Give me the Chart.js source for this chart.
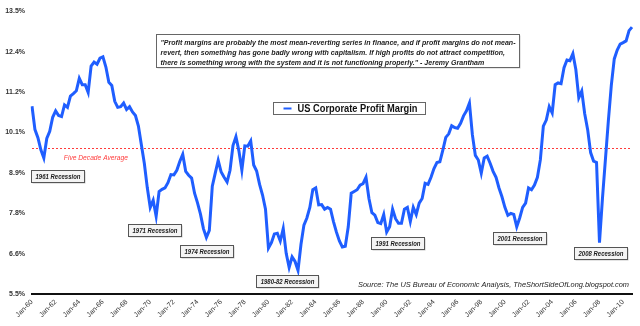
<!DOCTYPE html>
<html>
<head>
<meta charset="utf-8">
<script src="https://cdn.jsdelivr.net/npm/chart.js@4/dist/chart.umd.min.js"></script>
<style>
  html, body { margin: 0; padding: 0; background: #fff; }
</style>
</head>
<body>
<canvas id="chart" width="640" height="326"></canvas>
<script>
// quarterly labels Jan-60 .. Oct-10
const months = ['Jan', 'Apr', 'Jul', 'Oct'];
const quarterLabels = [];
for (let yr = 1960; yr <= 2010; yr++) {
    months.forEach(m => quarterLabels.push(m + '-' + String(yr % 100).padStart(2, '0')));
}

// US corporate profit margin, %, one value per quarter
const profitMargin = [
    10.81, 10.15, 9.92, 9.58,   9.35, 9.9, 10.1, 10.5,      10.68, 10.55, 10.52, 10.85,
    10.78, 11.1, 11.17, 11.25,  11.6, 11.42, 11.42, 11.2,   11.95, 12.06, 12.0, 12.17,
    12.21, 11.92, 11.49, 11.4,  10.95, 10.78, 10.8, 10.9,   10.72, 10.8, 10.65, 10.55,
    10.25, 9.72, 9.2, 8.51,     7.95, 8.15, 7.7, 8.4,       8.46, 8.5, 8.65, 8.88,
    8.87, 9.0, 9.25, 9.45,      8.97, 8.86, 8.78, 8.35,     8.08, 7.76, 7.35, 7.1,
    7.3, 8.55, 8.92, 9.28,      8.95, 8.8, 8.67, 9.0,       9.7, 9.95, 9.55, 9.0,
    9.69, 9.68, 9.83, 9.15,     8.98, 8.6, 8.3, 7.9,        6.8, 6.95, 7.2, 7.22,
    7.0, 7.35, 6.65, 6.25,      6.55, 6.42, 6.17, 6.9,      7.45, 7.65, 7.95, 8.45,
    8.5, 8.02, 8.03, 7.9,       7.95, 7.9, 7.55, 7.25,      7.0, 6.83, 6.85, 7.4,
    8.35, 8.4, 8.45, 8.58,      8.62, 8.8, 8.2, 7.8,        7.73, 7.52, 7.49, 7.75,
    7.25, 7.4, 7.9, 7.63,       7.5, 7.5, 7.9, 7.95,        7.55, 7.95, 7.75, 8.07,
    8.2, 8.63, 8.6, 8.8,        9.05, 9.22, 9.24, 9.57,     9.93, 10.03, 10.26, 10.21,
    10.19, 10.33, 10.54, 10.68, 10.9, 10.0, 9.42, 9.29,     8.92, 9.35, 9.4, 9.2,
    8.97, 8.8, 8.5, 8.25,       7.95, 7.73, 7.78, 7.75,     7.4, 7.65, 7.95, 8.07,
    8.5, 8.45, 8.58, 8.8,       9.3, 10.25, 10.42, 10.8,    10.62, 11.42, 11.47, 11.45,
    11.9, 12.12, 12.1, 12.3,    11.85, 11.05, 11.24, 10.6,  10.15, 9.5, 9.26, 9.22,
    6.95, 8.2, 9.3, 10.4,       11.4, 12.15, 12.4, 12.57,   12.61, 12.66, 12.95, 13.05
];

const fiveDecadeAverage = 9.63;
const yMin = 5.5;
const yMax = 13.5;

const recessionNotes = ['1961 Recession', '1971 Recession', '1974 Recession', '1980-82 Recession',
                        '1991 Recession', '2001 Recession', '2008 Recession'];
// label centres as [quarter index, value]
const recessionAnchors = [[8.5, 8.84], [41.3, 7.3], [58.9, 6.71], [86.3, 5.87],
                          [123.8, 6.93], [164.8, 7.09], [192.5, 6.65]];

const quoteLines = [
    '"Profit margins are probably the most mean-reverting series in finance, and if profit margins do not mean-',
    'revert, then something has gone badly wrong with capitalism. If high profits do not attract competition,',
    'there is something wrong with the system and it is not functioning properly." - Jeremy Grantham'
];
const sourceNote = 'Source: The US Bureau of Economic Analysis, TheShortSideOfLong.blogspot.com';

const FONT = '"Liberation Sans", Arial, sans-serif';
const BLUE = '#1f5eff';
const RED = '#ff3b3b';

// draw text squeezed horizontally to a target width
const fitText = (ctx, text, x, y, scale, align) => {
    ctx.save();
    ctx.translate(x, y);
    ctx.scale(scale, 1);
    ctx.textAlign = align;
    ctx.fillText(text, 0, 0);
    ctx.restore();
};

const notesPlugin = {
    id: 'notes',
    beforeDatasetsDraw(chart) {
        const { ctx, chartArea, scales: { x, y } } = chart;
        const yy = Math.round(y.getPixelForValue(fiveDecadeAverage)) + 0.5;
        ctx.save();
        ctx.strokeStyle = RED;
        ctx.lineWidth = 1;
        ctx.setLineDash([2, 2]);
        ctx.beginPath();
        ctx.moveTo(chartArea.left, yy);
        ctx.lineTo(chartArea.right, yy);
        ctx.stroke();
        ctx.setLineDash([]);
        ctx.fillStyle = RED;
        ctx.font = 'italic 8px ' + FONT;
        ctx.textBaseline = 'middle';
        const txt = 'Five Decade Average';
        fitText(ctx, txt, x.getPixelForValue(21.6), yy + 9, 64 / ctx.measureText(txt).width, 'center');
        ctx.restore();
    },
    afterDatasetsDraw(chart) {
        const { ctx, chartArea, scales: { x, y } } = chart;
        ctx.save();
        ctx.textBaseline = 'middle';

        // recession boxes
        ctx.font = 'bold italic 7px ' + FONT;
        const rs = 45 / ctx.measureText(recessionNotes[0]).width;
        recessionNotes.forEach((note, i) => {
            const cx = x.getPixelForValue(recessionAnchors[i][0]);
            const cy = y.getPixelForValue(recessionAnchors[i][1]);
            const w = Math.round(ctx.measureText(note).width * rs + 8);
            const h = 12;
            const bx = Math.round(cx - w / 2) + 0.5, by = Math.round(cy - h / 2) + 0.5;
            ctx.fillStyle = '#c8c8c8';
            ctx.fillRect(bx + 1, by + 1, w, h);
            ctx.fillStyle = '#f4f4f4';
            ctx.fillRect(bx, by, w, h);
            ctx.strokeStyle = '#555';
            ctx.lineWidth = 1;
            ctx.strokeRect(bx, by, w, h);
            ctx.fillStyle = '#1a1a1a';
            fitText(ctx, note, bx + w / 2, by + h / 2 + 0.5, rs, 'center');
        });

        // quote box
        const qx = x.getPixelForValue(103.4), qy = y.getPixelForValue(12.4);
        const qw = 363, qh = 33;
        const qlx = Math.round(qx - qw / 2) + 0.5, qty = Math.round(qy - qh / 2) + 0.5;
        ctx.fillStyle = '#d0d0d0';
        ctx.fillRect(qlx + 1, qty + 1, qw, qh);
        ctx.fillStyle = '#fff';
        ctx.fillRect(qlx, qty, qw, qh);
        ctx.strokeStyle = '#666';
        ctx.strokeRect(qlx, qty, qw, qh);
        ctx.font = 'bold italic 7.5px ' + FONT;
        ctx.fillStyle = '#222';
        const qs = 355 / ctx.measureText(quoteLines[0]).width;
        quoteLines.forEach((line, i) => fitText(ctx, line, qlx + 4, qty + 8.5 + i * 10, qs, 'left'));

        // legend box
        const lx = x.getPixelForValue(107.2), ly = y.getPixelForValue(10.75);
        const lw = 152, lh = 12;
        const llx = Math.round(lx - lw / 2) + 0.5, lty = Math.round(ly - lh / 2) + 0.5;
        ctx.fillStyle = '#fff';
        ctx.fillRect(llx, lty, lw, lh);
        ctx.strokeStyle = '#666';
        ctx.strokeRect(llx, lty, lw, lh);
        ctx.strokeStyle = BLUE;
        ctx.lineWidth = 2;
        ctx.beginPath();
        ctx.moveTo(llx + 10, lty + lh / 2);
        ctx.lineTo(llx + 18, lty + lh / 2);
        ctx.stroke();
        ctx.font = 'bold 10px ' + FONT;
        ctx.fillStyle = '#111';
        const lbl = chart.data.datasets[0].label;
        fitText(ctx, lbl, llx + 24, lty + lh / 2 + 0.5, 120 / ctx.measureText(lbl).width, 'left');

        // source
        ctx.font = 'italic 8px ' + FONT;
        ctx.fillStyle = '#222';
        fitText(ctx, sourceNote, chartArea.right - 3, chartArea.bottom - 9, 271 / ctx.measureText(sourceNote).width, 'right');

        ctx.restore();
    }
};

new Chart(document.getElementById('chart'), {
    type: 'line',
    data: {
        labels: quarterLabels,
        datasets: [{
            label: 'US Corporate Profit Margin',
            data: profitMargin,
            borderColor: BLUE,
            backgroundColor: BLUE,
            borderWidth: 3,
            pointRadius: 0,
            tension: 0,
            fill: false
        }]
    },
    options: {
        responsive: false,
        animation: false,
        layout: { padding: { left: 0, right: 8, top: 9, bottom: 0 } },
        plugins: {
            legend: { display: false },
            tooltip: { enabled: false }
        },
        scales: {
            x: {
                grid: { display: false, drawTicks: false },
                border: { display: true, color: '#111', width: 2 },
                ticks: {
                    autoSkip: false,
                    minRotation: 45,
                    maxRotation: 45,
                    padding: 4,
                    color: '#333',
                    font: { family: FONT, size: 7 },
                    callback: function (val, idx) { return idx % 8 === 0 ? this.getLabelForValue(val) : null; }
                },
                afterFit: s => { s.height = 32; }
            },
            y: {
                min: yMin,
                max: yMax,
                grid: { display: false, drawTicks: false },
                border: { display: false },
                ticks: {
                    count: 8,
                    padding: 7,
                    color: '#333',
                    font: { family: FONT, size: 7, weight: 'bold' },
                    callback: v => v.toFixed(1) + '%'
                },
                afterFit: s => { s.width = 32; }
            }
        }
    },
    plugins: [notesPlugin]
});
</script>
</body>
</html>
